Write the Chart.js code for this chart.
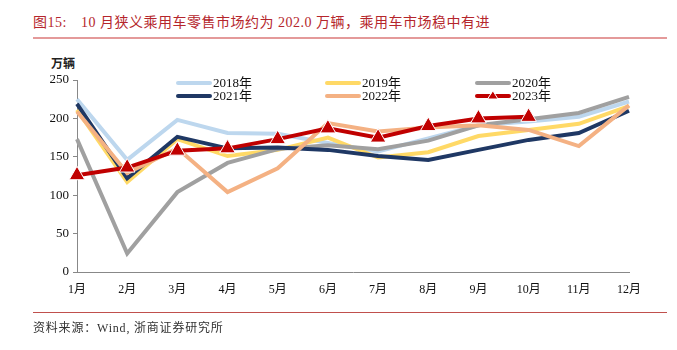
<!DOCTYPE html>
<html>
<head>
<meta charset="utf-8">
<script src="https://cdn.jsdelivr.net/npm/chart.js@4/dist/chart.umd.min.js"></script>
<style>
  body { margin: 0; background: #fff; }
  #wrap { position: relative; width: 677px; height: 350px; overflow: hidden; }
  #chart { position: absolute; left: 0; top: 0; }
  .title { position: absolute; left: 33px; top: 11px; font: 14px "Liberation Serif", "Noto Sans CJK SC"; letter-spacing: 0.5px; color: #b5262c; white-space: nowrap; }
  .title span { margin-left: 14px; }
  .rule1 { position: absolute; left: 33px; top: 37px; width: 634px; height: 2px; background: #e49a9a; }
  .rule2 { position: absolute; left: 33px; top: 312px; width: 634px; height: 1px; background: #c0504d; }
  .unit { position: absolute; left: 51px; top: 54px; font: bold 12px "Noto Sans CJK SC"; color: #222; }
  .src { position: absolute; left: 33px; top: 318px; font: 12px "Liberation Serif", "Noto Sans CJK SC"; letter-spacing: 0.8px; color: #333; }
</style>
</head>
<body>
<div id="wrap">
  <div class="title">图15:<span>10 月狭义乘用车零售市场约为 202.0 万辆，乘用车市场稳中有进</span></div>
  <div class="rule1"></div>
  <div class="unit">万辆</div>
  <canvas id="chart" width="677" height="350"></canvas>
  <div class="rule2"></div>
  <div class="src">资料来源：Wind, 浙商证券研究所</div>
</div>
<script>
const months = ['1月', '2月', '3月', '4月', '5月', '6月', '7月', '8月', '9月', '10月', '11月', '12月'];
const y2018 = [225, 146, 198, 181, 180, 168, 157, 174, 191, 196, 202, 222];
const y2019 = [211, 117, 173, 151, 159, 175, 149, 156, 177, 185, 193, 216];
const y2020 = [173, 24, 104, 142, 160, 165, 160, 171, 191, 199, 207, 228];
const y2021 = [219, 122, 176, 161, 162, 159, 151, 146, 159, 172, 181, 210];
const y2022 = [209, 129, 161, 104, 135, 194, 183, 188, 191, 185, 164, 217];
const y2023 = [126, 136, 158, 161, 173, 187, 175, 190, 200, 202, null, null];

const series = [
  { label: '2018年', data: y2018, color: '#bdd7ee' },
  { label: '2019年', data: y2019, color: '#ffd966' },
  { label: '2020年', data: y2020, color: '#a0a0a0' },
  { label: '2021年', data: y2021, color: '#1f3864' },
  { label: '2022年', data: y2022, color: '#f4b183' },
  { label: '2023年', data: y2023, color: '#c00000' }
];

// legend drawn by hand: 3 columns x 2 rows
const legendCols = [178, 327, 477];
const legendRows = [83, 96];

const legendPlugin = {
  id: 'gridLegend',
  afterDraw(chart) {
    const c = chart.ctx;
    c.save();
    c.font = '13px "Liberation Serif", "Noto Sans CJK SC"';
    c.textBaseline = 'middle';
    series.forEach((s, i) => {
      const x = legendCols[i % 3];
      const y = legendRows[Math.floor(i / 3)];
      c.strokeStyle = s.color;
      c.lineWidth = 4;
      c.lineCap = 'round';
      c.beginPath();
      c.moveTo(x, y);
      c.lineTo(x + 32, y);
      c.stroke();
      if (s.label === '2023年') {
        c.fillStyle = s.color;
        c.strokeStyle = '#fff';
        c.lineWidth = 1;
        c.beginPath();
        c.moveTo(x + 16, y - 5);
        c.lineTo(x + 21, y + 3);
        c.lineTo(x + 11, y + 3);
        c.closePath();
        c.fill();
        c.stroke();
      }
      c.fillStyle = '#111';
      c.fillText(s.label, x + 35, y + 1);
    });
    c.restore();
  }
};

new Chart(document.getElementById('chart'), {
  type: 'line',
  data: {
    labels: months,
    datasets: series.map((s, i) => ({
      label: s.label,
      data: s.data,
      borderColor: s.color,
      backgroundColor: s.color,
      borderWidth: 4,
      tension: 0,
      order: 6 - i,
      pointRadius: s.label === '2023年' ? 9 : 0,
      pointHoverRadius: 0,
      pointStyle: 'triangle',
      pointBorderColor: '#fff',
      pointBorderWidth: 1
    }))
  },
  options: {
    responsive: false,
    animation: false,
    layout: { padding: { left: 0, right: 48, top: 80, bottom: 0 } },
    plugins: { legend: { display: false }, tooltip: { enabled: false } },
    scales: {
      x: {
        offset: false,
        grid: { display: false, drawOnChartArea: false, drawTicks: true, tickLength: 4, color: '#888' },
        border: { color: '#888', width: 1 },
        ticks: { color: '#111', font: { family: '"Liberation Serif", "Noto Sans CJK SC"', size: 12 }, padding: 7, maxRotation: 0, autoSkip: false },
        afterFit(scale) { scale.height = 78; }
      },
      y: {
        min: 0,
        max: 250,
        ticks: { stepSize: 50, color: '#111', font: { family: '"Liberation Serif"', size: 13 }, padding: 4 },
        grid: { display: true, drawOnChartArea: false, drawTicks: true, tickLength: 4, color: '#888' },
        border: { color: '#888', width: 1 },
        afterFit(scale) { scale.width = 77; }
      }
    }
  },
  plugins: [legendPlugin]
});
</script>
</body>
</html>
